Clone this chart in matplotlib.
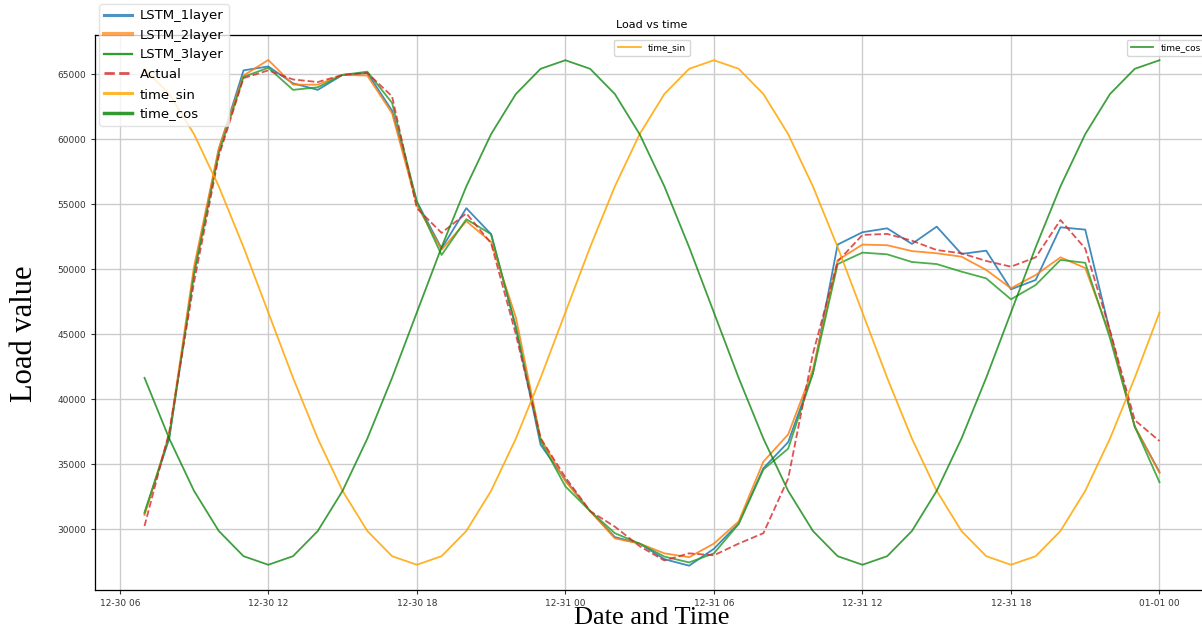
import numpy as np
import pandas as pd
import matplotlib
matplotlib.use("Agg")
import matplotlib.pyplot as plt
import matplotlib.dates as mdates
from matplotlib.lines import Line2D

# hourly timestamps, 12-30 07:00 -> 01-01 00:00
times = pd.date_range("2019-12-30 07:00", "2020-01-01 00:00", freq="h")

lstm_1layer = [31200, 37000, 49800, 59200, 65300, 65600, 64300, 63800, 64950, 65100,
               62200, 55200, 51600, 54700, 52700, 45500, 36500, 33800, 31400, 29400,
               28900, 27700, 27200, 28500, 30450, 34700, 36700, 42000, 51900, 52850,
               53150, 51950, 53280, 51180, 51430, 48460, 49180, 53230, 53050, 45200,
               37900, 34400]
lstm_2layer = [31100, 37300, 50200, 59300, 64900, 66100, 64200, 64200, 64950, 64900,
               62000, 54950, 51500, 53700, 52100, 46300, 37000, 33700, 31400, 29300,
               28900, 28150, 27850, 28900, 30600, 35200, 37300, 42300, 50700, 51900,
               51850, 51400, 51230, 50970, 49950, 48540, 49560, 50920, 50100, 45000,
               37900, 34350]
lstm_3layer = [31300, 37100, 49600, 58900, 64800, 65500, 63800, 64000, 64950, 65200,
               62800, 55200, 51100, 53850, 52700, 45600, 36800, 33300, 31400, 29700,
               28900, 27900, 27450, 28150, 30400, 34600, 36200, 42000, 50400, 51280,
               51150, 50560, 50400, 49820, 49300, 47690, 48790, 50720, 50500, 44700,
               37900, 33620]
actual = [30250, 37500, 49000, 58700, 64700, 65300, 64600, 64400, 64950, 65100,
          63300, 54700, 52800, 54300, 52000, 45000, 37000, 34000, 31400, 30200,
          28700, 27600, 28150, 28000, 28900, 29700, 33900, 43500, 50600, 52640,
          52720, 52200, 51480, 51230, 50640, 50200, 50920, 53790, 51600, 45300,
          38400, 36790]
time_sin = [0.966, 0.866, 0.707, 0.5, 0.259, 0.0, -0.259, -0.5, -0.707, -0.866,
            -0.966, -1.0, -0.966, -0.866, -0.707, -0.5, -0.259, 0.0, 0.259, 0.5,
            0.707, 0.866, 0.966, 1.0, 0.966, 0.866, 0.707, 0.5, 0.259, 0.0,
            -0.259, -0.5, -0.707, -0.866, -0.966, -1.0, -0.966, -0.866, -0.707, -0.5,
            -0.259, 0.0]
time_cos = [-0.259, -0.5, -0.707, -0.866, -0.966, -1.0, -0.966, -0.866, -0.707, -0.5,
            -0.259, 0.0, 0.259, 0.5, 0.707, 0.866, 0.966, 1.0, 0.966, 0.866,
            0.707, 0.5, 0.259, 0.0, -0.259, -0.5, -0.707, -0.866, -0.966, -1.0,
            -0.966, -0.866, -0.707, -0.5, -0.259, 0.0, 0.259, 0.5, 0.707, 0.866,
            0.966, 1.0]

W, H = 1202, 631
fig = plt.figure(figsize=(W / 100, H / 100), dpi=100)
# axes box in pixels: x 95..1209, y 35..590
ax = fig.add_axes([95 / W, 1 - 590 / H, (1209 - 95) / W, (590 - 35) / H])

c_blue, c_orange, c_green = "#1f77b4", "#ff7f0e", "#2ca02c"
ax.plot(times, lstm_1layer, color=c_blue, lw=1.3, alpha=0.85)
ax.plot(times, lstm_2layer, color=c_orange, lw=1.3, alpha=0.85)
ax.plot(times, lstm_3layer, color=c_green, lw=1.3, alpha=0.85)
ax.plot(times, actual, color="#d62728", lw=1.3, ls="--", alpha=0.8)

ax.set_xlim(pd.Timestamp("2019-12-30 05:00"), pd.Timestamp("2020-01-01 02:00"))
ax.set_ylim(25330, 68020)
ax.set_yticks([30000, 35000, 40000, 45000, 50000, 55000, 60000, 65000])
ax.xaxis.set_major_locator(mdates.HourLocator(byhour=[0, 6, 12, 18]))
ax.xaxis.set_major_formatter(mdates.DateFormatter("%m-%d %H"))
ax.tick_params(labelsize=6.5, colors="#333333", length=3)
ax.grid(True, color="#cccccc", lw=1)
ax.set_axisbelow(True)
for s in ["left", "bottom"]:
    ax.spines[s].set_color("#777777")
ax.spines["top"].set_color("black")
ax.set_title("Load vs time", fontsize=8, pad=5)

# sin / cos features on their own hidden scales
ax_s = ax.twinx()
ax_s.plot(times, time_sin, color="orange", lw=1.3, alpha=0.85, label="time_sin")
ax_s.set_ylim(-1.1, 1.1)
ax_s.set_yticks([])
ax_s.legend(loc="upper center", fontsize=6.5, handlelength=2.5)

ax_c = ax.twinx()
ax_c.plot(times, time_cos, color="green", lw=1.3, alpha=0.75, label="time_cos")
ax_c.set_ylim(-1.1, 1.1)
ax_c.set_yticks([])
ax_c.legend(loc="upper right", fontsize=6.5, handlelength=2.5)

handles = [Line2D([], [], color=c_blue, lw=2.2, alpha=0.8),
           Line2D([], [], color=c_orange, lw=3, alpha=0.7),
           Line2D([], [], color=c_green, lw=1.6),
           Line2D([], [], color="#d62728", lw=2, ls="--", alpha=0.8),
           Line2D([], [], color="orange", lw=2.2, alpha=0.8),
           Line2D([], [], color="green", lw=2.5, alpha=0.8)]
labels = ["LSTM_1layer", "LSTM_2layer", "LSTM_3layer", "Actual", "time_sin", "time_cos"]
fig.legend(handles, labels, loc="upper left", bbox_to_anchor=(99 / W, 1 - 4 / H),
           fontsize=9.5, handlelength=2.1, borderaxespad=0, labelspacing=0.5,
           handletextpad=0.6, framealpha=0.8, edgecolor="#dddddd", fancybox=True)

fig.text(25 / W, 1 - 334 / H, "Load value", rotation=90, ha="center", va="center",
         fontsize=22, family="Liberation Serif")
fig.text(652 / W, 1 - 618 / H, "Date and Time", ha="center", va="center",
         fontsize=19, family="Liberation Serif")

fig.savefig("out.png", dpi=100)
